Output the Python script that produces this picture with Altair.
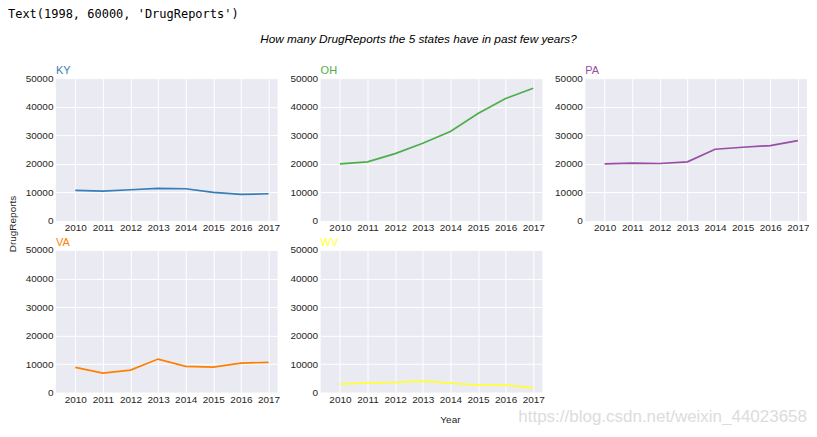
import altair as alt
import pandas as pd

years = [2010, 2011, 2012, 2013, 2014, 2015, 2016, 2017]
states = ["KY", "OH", "PA", "VA", "WV"]
ky = [10700, 10470, 10930, 11400, 11280, 10000, 9300, 9540]
oh = [19980, 20680, 23600, 27220, 31310, 37620, 42870, 46500]
pa = [20000, 20230, 20120, 20700, 25120, 25810, 26400, 28140]
va = [8880, 6890, 7940, 11800, 9230, 9000, 10400, 10630]
wv = [3040, 3500, 3620, 4090, 3390, 2690, 2690, 1750]
series = [ky, oh, pa, va, wv]
colors = ["#377eb8", "#4daf4a", "#984ea3", "#ff7f00", "#ffff33"]
y_ticks = [0, 10000, 20000, 30000, 40000, 50000]

header_text = ["Text(1998, 60000, 'DrugReports')"]
title_text = ["How many DrugReports the 5 states have in past few years?"]
ylabel_text = ["DrugReports"]
xlabel_text = ["Year"]
watermark_text = ["https://blog.csdn.net/weixin_44023658"]

W, H = 222, 143


def txt(lst, **kw):
    return alt.Chart(pd.DataFrame({"t": lst})).mark_text(**kw).encode(text="t:N")


def panel(state, values, color):
    df = pd.DataFrame({"Year": years, "DrugReports": values})
    line = alt.Chart(df).mark_line(color=color, strokeWidth=1.7).encode(
        x=alt.X("Year:Q",
                scale=alt.Scale(domain=[2009.3, 2017.33], nice=False, zero=False),
                axis=alt.Axis(values=years, format="d", title=None, labelFlush=False)),
        y=alt.Y("DrugReports:Q",
                scale=alt.Scale(domain=[0, 50000], nice=False),
                axis=alt.Axis(values=y_ticks, format="d", title=None, labelFlush=False)),
    )
    label = txt([state], font="Liberation Sans", fontSize=11, align="left",
                baseline="alphabetic", color=color).encode(x=alt.value(0), y=alt.value(-4))
    return [line, label]


charts = []
for i, (s, v, c) in enumerate(zip(states, series, colors)):
    layers = panel(s, v, c)
    if i == 0:
        header = txt(header_text, font="DejaVu Sans Mono", fontSize=12, align="left",
                     baseline="middle", color="#000000").encode(x=alt.value(-48), y=alt.value(-64))
        title = txt(title_text, font="Liberation Sans", fontSize=11.8, fontStyle="italic",
                    align="center", baseline="middle", color="#000000").encode(x=alt.value(363), y=alt.value(-39))
        ylab = txt(ylabel_text, font="Liberation Sans", fontSize=10, align="center",
                   baseline="middle", angle=270, color="#262626").encode(x=alt.value(-43), y=alt.value(146))
        xlab = txt(xlabel_text, font="Liberation Sans", fontSize=10, align="center",
                   baseline="middle", color="#262626").encode(x=alt.value(395), y=alt.value(342))
        wm = txt(watermark_text, font="Liberation Sans", fontSize=17, align="right",
                 baseline="middle", color="#dcdcdc").encode(x=alt.value(752), y=alt.value(339))
        layers += [header, title, ylab, xlab, wm]
    charts.append(alt.layer(*layers).properties(width=W, height=H))

chart = alt.concat(*charts, columns=3, spacing={"row": 29, "column": 43}, bounds="flush").properties(
    padding=0
).configure_view(
    fill="#EAEAF2", stroke=None
).configure_axis(
    grid=True, gridColor="#ffffff", gridWidth=1, domain=False, ticks=False,
    labelFont="Liberation Sans", labelFontSize=10, labelColor="#262626", labelPadding=3
).configure_axisX(labelPadding=2)

chart.save("out.html", embed_options={"renderer": "svg", "actions": False})
